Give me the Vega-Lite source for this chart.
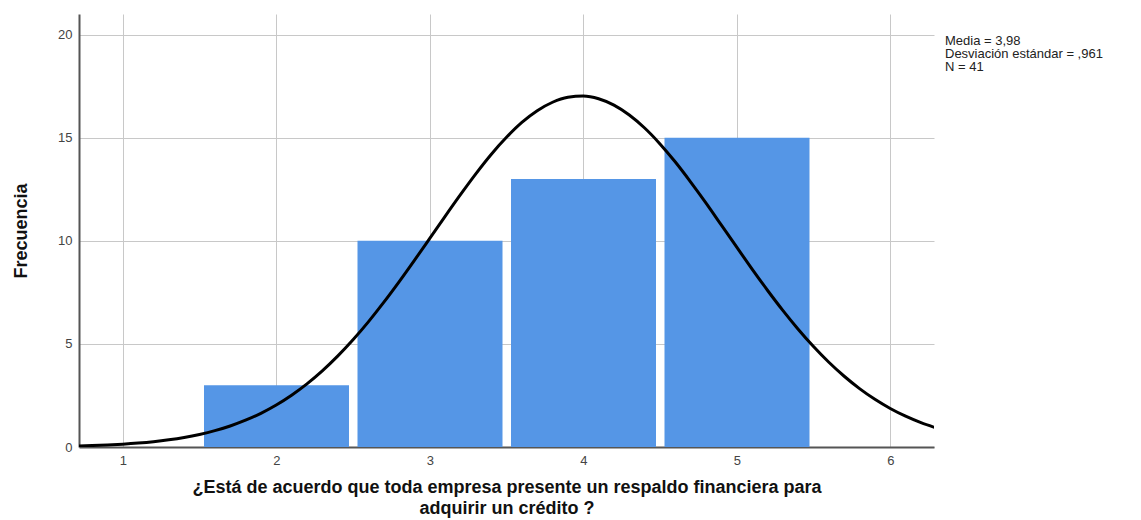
{
  "$schema": "https://vega.github.io/schema/vega-lite/v6.json",
  "width": 855,
  "height": 433,
  "autosize": "none",
  "padding": {"left": 79, "top": 14, "right": 207, "bottom": 73},
  "background": "white",
  "config": {"view": {"stroke": null}, "font": "Liberation Sans"},
  "title": {
    "text": ["Media = 3,98", "Desviación estándar = ,961", "N = 41"],
    "orient": "top",
    "anchor": "end",
    "frame": "group",
    "align": "left",
    "baseline": "top",
    "dx": 11,
    "dy": 64,
    "fontSize": 13,
    "fontWeight": "normal",
    "color": "#222222",
    "lineHeight": 13
  },
  "layer": [
    {
      "data": {"values": [
        {"value": 2, "bin_start": 1.5, "bin_end": 2.5, "Frecuencia": 3},
        {"value": 3, "bin_start": 2.5, "bin_end": 3.5, "Frecuencia": 10},
        {"value": 4, "bin_start": 3.5, "bin_end": 4.5, "Frecuencia": 13},
        {"value": 5, "bin_start": 4.5, "bin_end": 5.5, "Frecuencia": 15}
      ]},
      "mark": {"type": "bar", "color": "#5596e6", "xOffset": 4.5, "x2Offset": -4},
      "encoding": {
        "x": {
          "field": "bin_start",
          "type": "quantitative",
          "scale": {"domain": [0.715, 6.285], "nice": false, "zero": false},
          "axis": {
            "values": [1, 2, 3, 4, 5, 6],
            "format": "d",
            "grid": true,
            "gridColor": "#c8c8c8",
            "domainColor": "#555555",
            "domainWidth": 2,
            "ticks": false,
            "labelPadding": 7,
            "labelFontSize": 13,
            "labelColor": "#444444",
            "title": ["¿Está de acuerdo que toda empresa presente un respaldo financiera para", "adquirir un crédito ?"],
            "titleFontSize": 18,
            "titleFontWeight": "bold",
            "titleColor": "#111111",
            "titlePadding": 11,
            "titleLineHeight": 21
          }
        },
        "x2": {"field": "bin_end"},
        "y": {
          "field": "Frecuencia",
          "type": "quantitative",
          "scale": {"domain": [0, 21], "nice": false},
          "axis": {
            "values": [0, 5, 10, 15, 20],
            "grid": true,
            "gridColor": "#c8c8c8",
            "domainColor": "#555555",
            "domainWidth": 2,
            "ticks": false,
            "labelPadding": 7,
            "labelFontSize": 13,
            "labelColor": "#444444",
            "title": "Frecuencia",
            "titleFontSize": 18,
            "titleFontWeight": "bold",
            "titleColor": "#111111",
            "titlePadding": 27
          }
        },
        "y2": {"datum": 0}
      }
    },
    {
      "data": {"values": [
        {"x": 0.7, "y": 0.05}, {"x": 0.8, "y": 0.071}, {"x": 0.9, "y": 0.1}, {"x": 1.0, "y": 0.139},
        {"x": 1.1, "y": 0.191}, {"x": 1.2, "y": 0.259}, {"x": 1.3, "y": 0.349}, {"x": 1.4, "y": 0.463},
        {"x": 1.5, "y": 0.609}, {"x": 1.6, "y": 0.792}, {"x": 1.7, "y": 1.02}, {"x": 1.8, "y": 1.299},
        {"x": 1.9, "y": 1.635}, {"x": 2.0, "y": 2.037}, {"x": 2.1, "y": 2.512}, {"x": 2.2, "y": 3.062},
        {"x": 2.3, "y": 3.693}, {"x": 2.4, "y": 4.406}, {"x": 2.5, "y": 5.2}, {"x": 2.6, "y": 6.07},
        {"x": 2.7, "y": 7.01}, {"x": 2.8, "y": 8.008}, {"x": 2.9, "y": 9.051}, {"x": 3.0, "y": 10.118},
        {"x": 3.1, "y": 11.19}, {"x": 3.2, "y": 12.24}, {"x": 3.3, "y": 13.25}, {"x": 3.4, "y": 14.19},
        {"x": 3.5, "y": 15.02}, {"x": 3.6, "y": 15.74}, {"x": 3.7, "y": 16.31}, {"x": 3.8, "y": 16.72},
        {"x": 3.9, "y": 16.96}, {"x": 4.0, "y": 17.02}, {"x": 4.1, "y": 16.89}, {"x": 4.2, "y": 16.58},
        {"x": 4.3, "y": 16.1}, {"x": 4.4, "y": 15.47}, {"x": 4.5, "y": 14.7}, {"x": 4.6, "y": 13.82},
        {"x": 4.7, "y": 12.85}, {"x": 4.8, "y": 11.83}, {"x": 4.9, "y": 10.76}, {"x": 5.0, "y": 9.69},
        {"x": 5.1, "y": 8.629}, {"x": 5.2, "y": 7.603}, {"x": 5.3, "y": 6.626}, {"x": 5.4, "y": 5.713},
        {"x": 5.5, "y": 4.871}, {"x": 5.6, "y": 4.11}, {"x": 5.7, "y": 3.431}, {"x": 5.8, "y": 2.833},
        {"x": 5.9, "y": 2.313}, {"x": 6.0, "y": 1.869}, {"x": 6.1, "y": 1.493}, {"x": 6.2, "y": 1.181},
        {"x": 6.3, "y": 0.923}
      ]},
      "mark": {"type": "line", "color": "#000000", "strokeWidth": 3, "clip": true, "interpolate": "monotone"},
      "encoding": {
        "x": {"field": "x", "type": "quantitative"},
        "y": {"field": "y", "type": "quantitative"}
      }
    }
  ]
}
